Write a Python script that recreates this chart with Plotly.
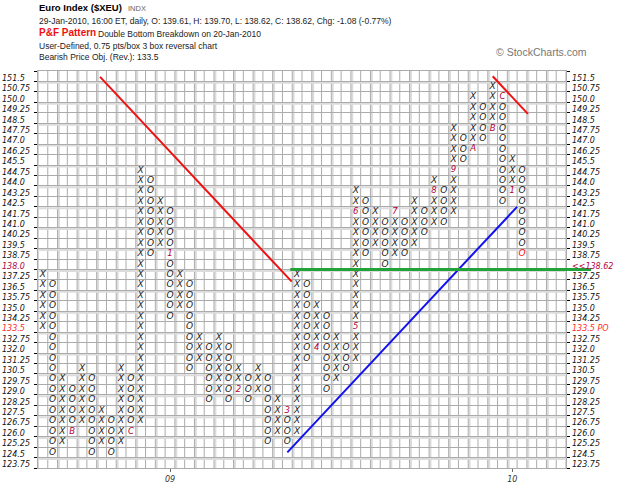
import math
import plotly.graph_objects as go

# ---------------- data ----------------
BOX = 0.75
PRICE_TOP = 151.5
PRICE_BOTTOM = 123.75
N_COLS = 54

col_types = ['X', 'O', 'X', 'O', 'X', 'O', 'X', 'O', 'X', 'O',
             'X', 'O', 'X', 'O', 'X', 'O', 'X', 'O', 'X', 'O',
             'X', 'O', 'X', 'O', 'X', 'O', 'X', 'O', 'X', 'O',
             'X', 'O', 'X', 'O', 'X', 'O', 'X', 'O', 'X', 'O',
             'X', 'O', 'X', 'O', 'X', 'O', 'X', 'O', 'X', 'O']
col_low = [133.5, 124.5, 125.25, 126.0, 126.75, 124.5, 125.25, 124.5, 125.25, 126.0,
           126.75, 138.75, 139.5, 134.25, 135.0, 130.5, 131.25, 128.25, 129.0, 128.25,
           129.0, 128.25, 129.0, 125.25, 126.0, 125.25, 126.0, 131.25, 132.0, 129.0,
           129.75, 130.5, 131.25, 138.75, 139.5, 138.0, 138.75, 138.75, 139.5, 140.25,
           141.0, 141.0, 141.75, 145.5, 146.25, 147.0, 147.75, 142.5, 143.25, 138.75]
col_high = [137.25, 136.5, 129.75, 129.0, 130.5, 129.75, 127.5, 126.75, 130.5, 129.75,
            144.75, 144.0, 142.5, 141.75, 137.25, 136.5, 132.75, 132.0, 132.75, 132.0,
            130.5, 129.75, 130.5, 129.75, 128.25, 127.5, 137.25, 136.5, 135.0, 134.25,
            132.75, 132.0, 143.25, 142.5, 141.75, 141.0, 141.75, 141.0, 142.5, 141.75,
            144.0, 143.25, 147.75, 147.0, 150.0, 149.25, 150.75, 150.0, 145.5, 144.75]

month_cols = [3, 9, 13, 20, 25, 28, 32, 32, 36, 40, 42, 44, 46, 47, 48]
month_prices = [126.0, 126.0, 138.75, 129.0, 127.5, 132.0, 133.5, 141.75, 141.75,
                143.25, 144.75, 146.25, 147.75, 150.0, 143.25]
month_labels = ['B', 'C', '1', '2', '3', '4', '5', '6', '7', '8', '9', 'A', 'B', 'C', '1']

current_col = 49
current_box = 138.75
last_price = 138.62
price_objective = 133.5

year_cols = [13, 48]
year_labels = ['09', '10']

# trend lines (column, price) end points
red_line1_cols = [5.85, 25.45]
red_line1_prices = [151.45, 136.75]
red_line2_cols = [46.0, 49.6]
red_line2_prices = [151.5, 148.8]
blue_line_cols = [25.0, 48.5]
blue_line_prices = [124.5, 142.125]

# ---------------- layout helpers ----------------
W, H = 625, 499
ML, MR, MT, MB = 38, 59, 71, 31
PW, PH = W - ML - MR, H - MT - MB


def xp(px):
    return (px - ML) / PW


def yp(py):
    return (H - MB - py) / PH


n_rows = int(round((PRICE_TOP - PRICE_BOTTOM) / BOX)) + 1
row_prices = [round(PRICE_BOTTOM + i * BOX, 2) for i in range(n_rows)]

special = set(zip(month_cols, month_prices))
special.add((current_col, current_box))

xs_x, ys_x, xs_o, ys_o = [], [], [], []
for c, (t, lo, hi) in enumerate(zip(col_types, col_low, col_high)):
    n = int(round((hi - lo) / BOX)) + 1
    for k in range(n):
        p = round(lo + k * BOX, 2)
        if (c, p) in special:
            continue
        if t == 'X':
            xs_x.append(c); ys_x.append(p)
        else:
            xs_o.append(c); ys_o.append(p)

fig = go.Figure()

glyph_font = dict(family='DejaVu Sans', size=9, color='#1a1a1a', style='italic')
fig.add_trace(go.Scatter(x=xs_x, y=ys_x, mode='text', text=['X'] * len(xs_x),
                         textfont=glyph_font, hoverinfo='skip', showlegend=False))
fig.add_trace(go.Scatter(x=xs_o, y=ys_o, mode='text', text=['O'] * len(xs_o),
                         textfont=glyph_font, hoverinfo='skip', showlegend=False))
fig.add_trace(go.Scatter(x=month_cols, y=month_prices, mode='text', text=month_labels,
                         textfont=dict(family='DejaVu Sans', size=8.5, color='#b0003c',
                                       style='italic'),
                         hoverinfo='skip', showlegend=False))
fig.add_trace(go.Scatter(x=[current_col], y=[current_box], mode='text', text=['O'],
                         textfont=dict(family='DejaVu Sans', size=9, color='#ff1010',
                                       style='italic'),
                         hoverinfo='skip', showlegend=False))

fig.add_trace(go.Scatter(x=red_line1_cols, y=red_line1_prices, mode='lines',
                         line=dict(color='#ee1111', width=2), hoverinfo='skip',
                         showlegend=False))
fig.add_trace(go.Scatter(x=red_line2_cols, y=red_line2_prices, mode='lines',
                         line=dict(color='#ee1111', width=2), hoverinfo='skip',
                         showlegend=False))
fig.add_trace(go.Scatter(x=blue_line_cols, y=blue_line_prices, mode='lines',
                         line=dict(color='#1111ee', width=2), hoverinfo='skip',
                         showlegend=False))

shapes = []
# grid: light companion lines then dark lines
for i in range(N_COLS + 1):
    xb = i - 0.5
    if i % 2 == 0 and 0 < i < N_COLS:
        shapes.append(dict(type='line', xref='x', yref='paper', x0=xb + 0.14, x1=xb + 0.14,
                           y0=0, y1=1, line=dict(color='#dcdcdc', width=2), layer='below'))
    shapes.append(dict(type='line', xref='x', yref='paper', x0=xb, x1=xb, y0=0, y1=1,
                       line=dict(color='#ababab', width=1), layer='below'))
for j in range(n_rows + 1):
    yb = PRICE_BOTTOM - BOX / 2 + j * BOX
    if j % 2 == 1 and 0 < j < n_rows:
        shapes.append(dict(type='line', xref='paper', yref='y', x0=0, x1=1,
                           y0=yb - 0.1, y1=yb - 0.1,
                           line=dict(color='#dcdcdc', width=2), layer='below'))

# green last-price line at bottom edge of the current box row
level_box = PRICE_BOTTOM + math.floor((last_price - PRICE_BOTTOM) / BOX) * BOX
green_y = level_box - BOX / 2
shapes.append(dict(type='line', xref='paper', yref='y', x0=(25.3 + 0.5) / N_COLS,
                   x1=xp(591), y0=green_y, y1=green_y,
                   line=dict(color='#22a33a', width=3), layer='above'))
fig.update_layout(shapes=shapes)

ann = []
label_font = dict(family='DejaVu Sans', size=8, color='#111111', style='italic')
for p in row_prices:
    ltxt = f'{p:.2f}'.rstrip('0')
    if ltxt.endswith('.'):
        ltxt += '0'
    lcol = '#111111'
    if p == level_box:
        lcol = '#b0003c'
    if p == price_objective:
        lcol = '#ff2a2a'
    ann.append(dict(x=xp(0), y=p, xref='paper', yref='y', text=ltxt, showarrow=False,
                    xanchor='left', yanchor='middle', yshift=-2,
                    font=dict(label_font, color=lcol)))
    rtxt, rcol = ltxt, '#111111'
    if p == level_box:
        rtxt, rcol = f'<<{last_price:.2f}', '#b0003c'
    if p == price_objective:
        rtxt, rcol = f'{ltxt} PO', '#ff2a2a'
    ann.append(dict(x=xp(570), y=p, xref='paper', yref='y', text=rtxt, showarrow=False,
                    xanchor='left', yanchor='middle', yshift=-2,
                    font=dict(label_font, color=rcol)))

hdr = 'Liberation Sans'
ann += [
    dict(x=xp(37), y=yp(8), text='<b>Euro Index ($XEU)</b>',
         font=dict(family=hdr, size=9.5, color='#000')),
    dict(x=xp(126), y=yp(8.5), text='INDX', font=dict(family=hdr, size=7.5, color='#666')),
    dict(x=xp(37), y=yp(21),
         text='29-Jan-2010, 16:00 ET, daily, O: 139.61, H: 139.70, L: 138.62, C: 138.62, '
              'Chg: -1.08 (-0.77%)',
         font=dict(family=hdr, size=8.5, color='#222')),
    dict(x=xp(37), y=yp(33), text='<b>P&F Pattern</b>',
         font=dict(family=hdr, size=10, color='#ee1111')),
    dict(x=xp(96), y=yp(33.5), text='Double Bottom Breakdown on 20-Jan-2010',
         font=dict(family=hdr, size=8.5, color='#222')),
    dict(x=xp(37), y=yp(45.5), text='User-Defined, 0.75 pts/box 3 box reversal chart',
         font=dict(family=hdr, size=8.5, color='#222')),
    dict(x=xp(37), y=yp(57.5), text='Bearish Price Obj. (Rev.): 133.5',
         font=dict(family=hdr, size=8.5, color='#222')),
    dict(x=xp(494), y=yp(52), text='© StockCharts.com',
         font=dict(family=hdr, size=10.5, color='#777')),
]
for a in ann[-8:]:
    a.update(xref='paper', yref='paper', showarrow=False, xanchor='left', yanchor='middle')
fig.update_layout(annotations=ann)

fig.update_layout(
    width=W, height=H,
    margin=dict(l=ML, r=MR, t=MT, b=MB, pad=0),
    paper_bgcolor='white', plot_bgcolor='white',
    xaxis=dict(range=[-0.5, N_COLS - 0.5], showgrid=False, zeroline=False,
               tickmode='array', tickvals=year_cols, ticktext=year_labels,
               ticks='outside', ticklen=3, tickcolor='#666',
               tickfont=dict(family='DejaVu Sans', size=8, color='#333', style='italic'),
               showline=True, linecolor='#ababab', mirror=True, fixedrange=True),
    yaxis=dict(range=[PRICE_BOTTOM - BOX / 2, PRICE_TOP + BOX / 2], zeroline=False,
               tickmode='linear', tick0=PRICE_BOTTOM - BOX / 2, dtick=BOX,
               showticklabels=False, ticks='outside', ticklen=3, tickcolor='#000',
               showgrid=True, gridcolor='#ababab', gridwidth=1,
               showline=True, linecolor='#ababab', mirror='ticks', fixedrange=True),
)

fig.write_html('out.html')
